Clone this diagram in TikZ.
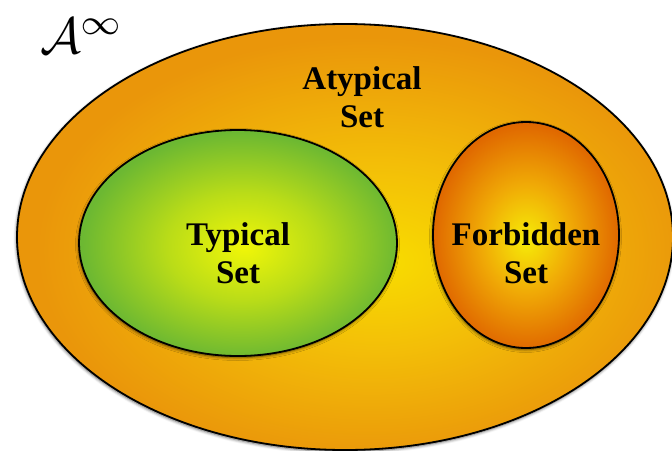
\documentclass[tikz,border=0pt]{standalone}
\usepackage{fontspec}
\setmainfont{Liberation Serif}
\usetikzlibrary{shapes.geometric,shadows.blur}

% colour ramps of the three sets
\definecolor{atypIn}{RGB}{248,220,0}
\definecolor{atypMid}{RGB}{243,190,8}
\definecolor{atypOut}{RGB}{234,150,10}
\definecolor{typIn}{RGB}{240,246,8}
\definecolor{typMid}{RGB}{185,220,24}
\definecolor{typOut}{RGB}{108,184,50}
\definecolor{forbIn}{RGB}{246,236,8}
\definecolor{forbMid}{RGB}{240,170,6}
\definecolor{forbOut}{RGB}{224,104,0}

\pgfdeclareradialshading{atypshade}{\pgfpoint{3bp}{-3bp}}{%
  color(0bp)=(atypIn); color(11bp)=(atypMid); color(25bp)=(atypOut); color(50bp)=(atypOut)}
\pgfdeclareradialshading{typshade}{\pgfpoint{1bp}{-1bp}}{%
  color(0bp)=(typIn); color(12bp)=(typMid); color(25bp)=(typOut); color(50bp)=(typOut)}
\pgfdeclareradialshading{forbshade}{\pgfpoint{0bp}{-1bp}}{%
  color(0bp)=(forbIn); color(12bp)=(forbMid); color(25bp)=(forbOut); color(50bp)=(forbOut)}

\tikzset{
  setshape/.style={ellipse, inner sep=0pt, draw=black, line width=1.8pt,
    blur shadow={shadow xshift=-0.5pt, shadow yshift=-1.5pt,
                 shadow blur radius=3pt, shadow opacity=65}},
  setlabel/.style={align=center, font=\fontsize{33}{38}\selectfont\bfseries, inner sep=0pt},
}

\begin{document}
\begin{tikzpicture}[x=1pt,y=-1pt]
  \useasboundingbox (0,0) rectangle (672,450);

  % outer set and the two inner sets
  \node[setshape, shading=atypshade, minimum width=656pt, minimum height=426pt] (atypical) at (345,237) {};
  \node[setshape, shading=typshade, minimum width=318pt, minimum height=226pt] (typical) at (238,243) {};
  \node[setshape, shading=forbshade, minimum width=186pt, minimum height=226pt] (forbidden) at (526,235) {};

  % labels
  \node[setlabel] (atyplabel) at (362,97.5) {Atypical\\Set};
  \node[setlabel] (typlabel) at (238,253) {Typical\\Set};
  \node[setlabel] (forblabel) at (526,253) {Forbidden\\Set};

  \node[anchor=base west, inner sep=0pt] (space) at (40,53)
    {\resizebox{84pt}{!}{$\mathcal{A}^{\infty}$}};
\end{tikzpicture}
\end{document}
